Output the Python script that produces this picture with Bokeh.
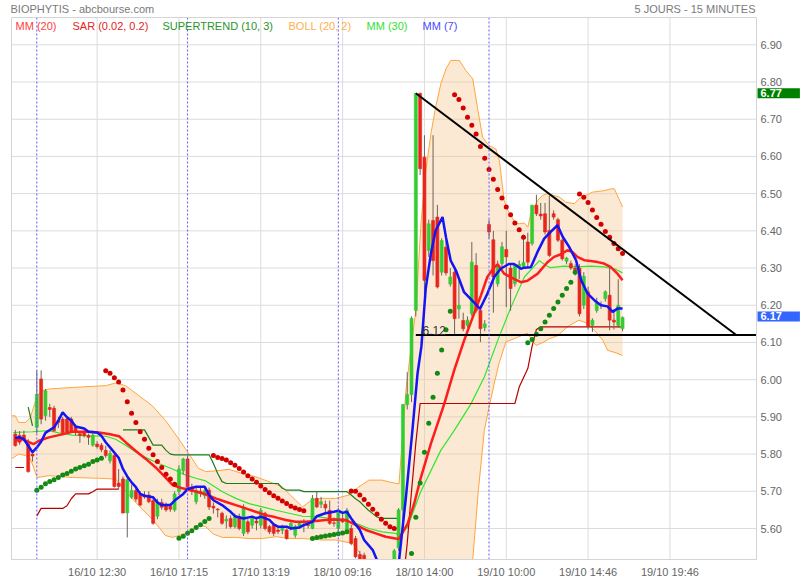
from bokeh.plotting import figure
from bokeh.models import Range1d, FixedTicker, PrintfTickFormatter, Label, LinearAxis, ColumnDataSource
from bokeh.embed import file_html
from bokeh.resources import INLINE

FONT = "Liberation Sans"

# ---------------- data (bar index, 15-minute bars; bar 0 = 16/10 09:00) ----------------
bars = list(range(-5, 137))
opens = [5.854, 5.850, 5.851, 5.827, 5.800, 5.872, 6.002, 5.903, 5.925, 5.923,
         5.890, 5.894, 5.894, 5.894, 5.872, 5.855, 5.858, 5.850, 5.824, 5.827,
         5.824, 5.810, 5.782, 5.796, 5.722, 5.733, 5.642, 5.684, 5.702, 5.693,
         5.690, 5.690, 5.675, 5.633, 5.670, 5.661, 5.660, 5.650, 5.699, 5.755,
         5.787, 5.711, 5.672, 5.700, 5.688, 5.703, 5.660, 5.652, 5.641, 5.620,
         5.627, 5.605, 5.632, 5.587, 5.618, 5.609, 5.620, 5.609, 5.641, 5.605,
         5.609, 5.596, 5.595, 5.596, 5.600, 5.582, 5.605, 5.610, 5.610, 5.600,
         5.681, 5.665, 5.665, 5.649, 5.615, 5.600, 5.626, 5.591, 5.600, 5.573,
         5.530, 5.528, 5.500, 5.470, 5.450, 5.460, 5.470, 5.480, 5.500, 5.548,
         5.650, 5.933, 5.960, 6.186, 6.769, 6.598, 6.347, 6.428, 6.437, 6.289,
         6.356, 6.257, 6.289, 6.190, 6.159, 6.146, 6.177, 6.307, 6.186, 6.140,
         6.417, 6.376, 6.258, 6.312, 6.350, 6.300, 6.258, 6.300, 6.305, 6.370,
         6.366, 6.469, 6.445, 6.446, 6.401, 6.446, 6.430, 6.375, 6.318, 6.312,
         6.300, 6.300, 6.200, 6.236, 6.146, 6.186, 6.200, 6.218, 6.227, 6.160,
         6.146, 6.137]
highs = [5.865, 5.862, 5.863, 5.840, 5.810, 6.024, 6.025, 5.975, 5.935, 5.930,
         5.900, 5.900, 5.900, 5.900, 5.880, 5.862, 5.865, 5.855, 5.855, 5.835,
         5.830, 5.822, 5.810, 5.800, 5.760, 5.740, 5.735, 5.718, 5.710, 5.700,
         5.700, 5.700, 5.685, 5.680, 5.680, 5.670, 5.667, 5.700, 5.770, 5.790,
         5.796, 5.720, 5.710, 5.710, 5.710, 5.710, 5.670, 5.655, 5.645, 5.635,
         5.635, 5.640, 5.640, 5.665, 5.625, 5.632, 5.632, 5.655, 5.645, 5.610,
         5.615, 5.605, 5.610, 5.600, 5.620, 5.610, 5.620, 5.625, 5.620, 5.690,
         5.700, 5.685, 5.675, 5.675, 5.630, 5.655, 5.640, 5.655, 5.610, 5.580,
         5.540, 5.535, 5.510, 5.490, 5.480, 5.490, 5.500, 5.510, 5.545, 5.655,
         5.935, 6.020, 6.170, 6.770, 6.772, 6.657, 6.430, 6.657, 6.470, 6.380,
         6.374, 6.300, 6.300, 6.267, 6.180, 6.170, 6.370, 6.340, 6.200, 6.160,
         6.430, 6.400, 6.320, 6.370, 6.400, 6.310, 6.310, 6.320, 6.390, 6.395,
         6.470, 6.497, 6.475, 6.475, 6.495, 6.455, 6.435, 6.380, 6.330, 6.320,
         6.310, 6.310, 6.289, 6.250, 6.165, 6.220, 6.210, 6.240, 6.300, 6.190,
         6.270, 6.170]
lows = [5.820, 5.825, 5.835, 5.750, 5.780, 5.855, 5.880, 5.890, 5.900, 5.860,
        5.870, 5.850, 5.855, 5.860, 5.850, 5.830, 5.845, 5.825, 5.820, 5.815,
        5.805, 5.790, 5.775, 5.710, 5.705, 5.640, 5.576, 5.680, 5.672, 5.660,
        5.680, 5.668, 5.610, 5.625, 5.650, 5.645, 5.645, 5.645, 5.690, 5.745,
        5.700, 5.690, 5.665, 5.685, 5.680, 5.650, 5.640, 5.630, 5.610, 5.600,
        5.600, 5.600, 5.595, 5.580, 5.585, 5.600, 5.595, 5.600, 5.595, 5.585,
        5.580, 5.585, 5.585, 5.570, 5.595, 5.575, 5.600, 5.590, 5.600, 5.598,
        5.655, 5.655, 5.640, 5.610, 5.605, 5.595, 5.615, 5.585, 5.555, 5.520,
        5.505, 5.500, 5.460, 5.440, 5.430, 5.440, 5.450, 5.460, 5.490, 5.540,
        5.620, 5.920, 5.940, 6.170, 6.550, 6.222, 6.330, 6.280, 6.245, 6.280,
        6.280, 6.250, 6.123, 6.164, 6.130, 6.140, 6.170, 6.180, 6.101, 6.130,
        6.380, 6.180, 6.250, 6.300, 6.195, 6.185, 6.250, 6.270, 6.300, 6.300,
        6.360, 6.440, 6.430, 6.390, 6.330, 6.430, 6.370, 6.320, 6.310, 6.295,
        6.280, 6.170, 6.190, 6.135, 6.128, 6.180, 6.190, 6.210, 6.133, 6.135,
        6.140, 6.130]
closes = [5.823, 5.832, 5.840, 5.753, 5.795, 5.961, 5.894, 5.970, 5.920, 5.863,
          5.885, 5.858, 5.858, 5.862, 5.858, 5.850, 5.850, 5.845, 5.851, 5.820,
          5.812, 5.796, 5.802, 5.713, 5.713, 5.642, 5.731, 5.702, 5.679, 5.663,
          5.685, 5.672, 5.614, 5.672, 5.657, 5.650, 5.652, 5.693, 5.760, 5.787,
          5.711, 5.700, 5.702, 5.695, 5.702, 5.658, 5.655, 5.650, 5.614, 5.625,
          5.605, 5.632, 5.600, 5.658, 5.591, 5.627, 5.615, 5.649, 5.600, 5.591,
          5.587, 5.592, 5.600, 5.573, 5.614, 5.605, 5.614, 5.612, 5.608, 5.681,
          5.658, 5.672, 5.655, 5.614, 5.614, 5.645, 5.618, 5.649, 5.560, 5.524,
          5.512, 5.510, 5.470, 5.450, 5.460, 5.470, 5.480, 5.490, 5.540, 5.650,
          5.933, 5.960, 6.165, 6.769, 6.567, 6.267, 6.419, 6.320, 6.249, 6.374,
          6.287, 6.276, 6.164, 6.200, 6.137, 6.160, 6.316, 6.186, 6.137, 6.150,
          6.397, 6.276, 6.307, 6.357, 6.330, 6.245, 6.307, 6.310, 6.315, 6.316,
          6.469, 6.446, 6.440, 6.397, 6.334, 6.437, 6.375, 6.325, 6.327, 6.300,
          6.287, 6.177, 6.278, 6.142, 6.160, 6.206, 6.202, 6.236, 6.160, 6.155,
          6.200, 6.167]

# moving averages: (bar, price)
mm7_points = [(-5, 5.843), (-4, 5.845), (-3, 5.840), (-1, 5.805), (0, 5.818), (1, 5.833), (2, 5.857),
              (4, 5.872), (5, 5.890), (6, 5.912), (7, 5.899), (8, 5.890), (9, 5.874), (11, 5.869),
              (12, 5.860), (14, 5.858), (15, 5.849), (16, 5.832), (17, 5.818), (19, 5.790), (20, 5.760),
              (21, 5.740), (22, 5.724), (23, 5.711), (24, 5.693), (25, 5.688), (27, 5.684), (28, 5.670),
              (29, 5.663), (31, 5.663), (32, 5.675), (34, 5.693), (35, 5.706), (37, 5.712), (39, 5.712),
              (40, 5.690), (41, 5.676), (43, 5.663), (45, 5.645), (46, 5.633), (48, 5.627), (50, 5.632),
              (51, 5.627), (52, 5.632), (54, 5.623), (55, 5.611), (56, 5.605), (58, 5.605), (59, 5.600),
              (61, 5.603), (62, 5.609), (64, 5.618), (65, 5.633), (67, 5.641), (69, 5.645), (70, 5.648),
              (71, 5.642), (72, 5.645), (73, 5.627), (75, 5.596), (76, 5.569), (78, 5.542), (79, 5.515),
              (81, 5.470), (83, 5.480), (84.1, 5.514), (85.7, 5.684), (87.2, 5.863), (88.4, 6.017),
              (89.3, 6.090), (90.3, 6.245), (91.5, 6.339), (92.6, 6.401), (94.2, 6.437), (95, 6.383),
              (96.1, 6.320), (97.3, 6.294), (99.2, 6.235), (101.5, 6.208), (102.9, 6.190),
              (104.6, 6.231), (106.2, 6.276), (107.7, 6.298), (109.6, 6.311), (110.8, 6.311),
              (112.4, 6.298), (113.1, 6.301), (114.7, 6.302), (116.4, 6.347), (117.8, 6.379),
              (119.3, 6.397), (120.9, 6.415), (122.1, 6.384), (123.6, 6.357),
              (125.2, 6.321), (126.4, 6.267), (127.9, 6.231), (129.5, 6.213), (131, 6.200),
              (132.5, 6.197), (133.7, 6.182), (134.8, 6.191), (136, 6.191)]
mm20_points = [(-5, 5.836), (-3.4, 5.840), (-1.8, 5.832), (-0.7, 5.827), (0.5, 5.836), (2.8, 5.845),
               (5.1, 5.851), (8.2, 5.860), (12.1, 5.860), (14.4, 5.858), (16.7, 5.854), (19.1, 5.848),
               (20.6, 5.832), (22.9, 5.809), (25.3, 5.787), (27.6, 5.764), (29.9, 5.737), (31.5, 5.717),
               (33.8, 5.708), (36.1, 5.702), (39.2, 5.692), (41.5, 5.681), (43.8, 5.672), (46.2, 5.663),
               (48.5, 5.654), (50.8, 5.645), (53.1, 5.636), (55.5, 5.630), (57.8, 5.623), (60.1, 5.618),
               (62.4, 5.618), (64.8, 5.620), (67.1, 5.623), (69.4, 5.624), (71.7, 5.623), (74.1, 5.609),
               (76.4, 5.596), (78.7, 5.587), (81, 5.578), (83.3, 5.573), (84.1, 5.572), (86.1, 5.613),
               (87.6, 5.666), (89.1, 5.734), (91.5, 5.828), (94.6, 5.935), (96.9, 6.025), (99.2, 6.105),
               (101.5, 6.177), (103.1, 6.226), (104.6, 6.276), (106.2, 6.302), (107, 6.310),
               (108.5, 6.285), (110.8, 6.271), (112.4, 6.262), (113.9, 6.266), (116.3, 6.285),
               (118.5, 6.315), (120.1, 6.330), (121.7, 6.337), (123.2, 6.348),
               (124.4, 6.343), (125.5, 6.330), (127.1, 6.321), (128.6, 6.319), (130.2, 6.316),
               (131.7, 6.312), (133.2, 6.303), (134.8, 6.285), (136, 6.267)]
mm30_points = [(-5.5, 5.858), (-1, 5.860), (2.8, 5.863), (5.1, 5.857), (8.2, 5.851), (12.1, 5.849),
               (16, 5.848), (18.3, 5.840), (20.6, 5.824), (23.7, 5.800), (27.6, 5.778), (31.5, 5.760),
               (34.5, 5.744), (36.9, 5.735), (39.2, 5.728), (43.1, 5.699), (46.2, 5.681), (49.3, 5.667),
               (52.4, 5.658), (55.5, 5.649), (58.6, 5.641), (61.7, 5.633), (64.8, 5.632), (67.9, 5.627),
               (71, 5.623), (74.1, 5.614), (77.1, 5.600), (80.2, 5.591), (83.3, 5.587), (84.1, 5.581),
               (86.1, 5.604), (89.1, 5.698), (93.8, 5.810), (96.9, 5.863), (100.8, 5.935),
               (103.9, 6.007), (107, 6.105), (110.1, 6.195), (113.2, 6.276), (116.7, 6.320),
               (118.2, 6.307), (119.3, 6.301), (122.4, 6.305),
               (125.5, 6.303), (128.6, 6.305), (131.7, 6.303), (134.1, 6.298), (136, 6.287)]

# Bollinger (20, 2) bands: (bar, price)
boll_upper = [(-5.9, 5.903), (-5, 5.903), (-4.2, 5.885), (-2.6, 5.885), (-1.5, 5.899), (0.1, 5.957),
              (1.2, 5.970), (2.8, 5.975), (8.2, 5.979), (16, 5.984), (18.3, 5.991), (20.6, 5.984),
              (23.7, 5.957), (26.8, 5.930), (29.9, 5.890), (33, 5.840), (36.1, 5.787), (37.5, 5.762),
              (39.2, 5.753), (41.5, 5.755), (44.6, 5.759), (47.7, 5.748), (50.8, 5.739), (53.9, 5.726),
              (57, 5.712), (59.3, 5.685), (61.7, 5.658), (64, 5.678), (66.3, 5.681), (69.4, 5.681),
              (72.5, 5.690), (74.8, 5.712), (77.1, 5.730), (80.2, 5.730), (82.2, 5.724), (84.1, 5.720),
              (85.7, 5.971), (86.8, 6.078), (88, 6.186), (89.2, 6.420), (90.3, 6.560), (91.5, 6.661),
              (92.6, 6.732), (93.8, 6.795), (95, 6.835), (96.1, 6.858), (98.1, 6.858), (99.6, 6.831),
              (101.2, 6.809), (102.3, 6.732), (103.5, 6.652), (105, 6.629), (106.6, 6.620),
              (107.4, 6.589), (108.5, 6.482), (109.7, 6.446), (111.2, 6.421), (112, 6.419),
              (113.2, 6.421), (114, 6.410), (114.7, 6.446), (116.3, 6.482), (117.4, 6.495),
              (118.6, 6.500), (120.1, 6.495), (121.3, 6.491), (122.8, 6.477), (124.8, 6.473),
              (125.9, 6.486), (127.5, 6.495), (129, 6.504), (131.7, 6.508), (133.3, 6.513),
              (134.1, 6.513), (136, 6.464)]
boll_lower = [(-5.9, 5.787), (-4.2, 5.800), (-2.6, 5.796), (-1.5, 5.787), (0.1, 5.737), (2.8, 5.742),
              (8.2, 5.737), (14.4, 5.735), (18.3, 5.733), (20.6, 5.700), (23.7, 5.661), (26.8, 5.625),
              (29.9, 5.581), (31.5, 5.576), (33, 5.581), (35.3, 5.590), (37.6, 5.610), (39.2, 5.605),
              (41, 5.585), (43.1, 5.576), (46.2, 5.576), (49.3, 5.573), (52.4, 5.573), (55.5, 5.578),
              (58.6, 5.573), (61.7, 5.573), (66.3, 5.569), (69.4, 5.569), (73.3, 5.560), (75.6, 5.524),
              (77.1, 5.497), (80, 5.440), (84, 5.430), (86, 5.300), (90, 5.100), (95, 5.050),
              (100, 5.400), (101.2, 5.514), (102.5, 5.700), (103.9, 5.863), (105, 5.926),
              (106.2, 5.989), (107.3, 6.043), (108.9, 6.101), (111.6, 6.114), (113.9, 6.125),
              (115.9, 6.092), (117.5, 6.100), (119, 6.110), (120.9, 6.118), (123.2, 6.142),
              (125.9, 6.160), (127.9, 6.151), (129.8, 6.128), (131.4, 6.106), (132.5, 6.079),
              (134.5, 6.072), (136, 6.065)]

# Supertrend (10, 3) segments
st_red_1_x = [-5, -4, -3]
st_red_1_y = [5.764, 5.764, 5.764]
st_green_1_x = [-2, -1]
st_green_1_y = [5.926, 5.876]
st_red_2_x = list(range(0, 20))
st_red_2_y = [5.634, 5.654, 5.654, 5.654, 5.654, 5.654, 5.654, 5.661, 5.680, 5.693,
              5.693, 5.693, 5.693, 5.699, 5.706, 5.706, 5.706, 5.706, 5.706, 5.706]
st_green_2_x = list(range(20, 85))
st_green_2_y = [5.865] * 6 + [5.845, 5.824, 5.824, 5.824, 5.810, 5.800] + [5.798] * 9 + \
               [5.775, 5.748, 5.726] + [5.721] * 13 + [5.708] + [5.703] * 4 + [5.699] * 11 + \
               [5.690, 5.680, 5.672, 5.660, 5.649, 5.640, 5.631] + [5.627] * 5
st_red_3_x = list(range(85, 137))
st_red_3_y = [5.450, 5.560, 5.700, 5.830] + [5.936] * 23 + [5.980, 6.005, 6.030, 6.090, 6.135] + \
             [6.142] * 20

# Parabolic SAR (0.02, 0.2)
sar_green_x = list(range(0, 16)) + list(range(33, 41)) + list(range(64, 73)) + \
              list(range(87, 97)) + list(range(114, 126))
sar_green_y = [5.703, 5.711, 5.720, 5.726, 5.731, 5.737, 5.744, 5.748, 5.754, 5.760, 5.764, 5.769,
               5.773, 5.780, 5.784, 5.789,
               5.574, 5.579, 5.587, 5.594, 5.603, 5.610, 5.619, 5.627,
               5.573, 5.576, 5.578, 5.580, 5.582, 5.584, 5.586, 5.588, 5.591,
               5.533, 5.630, 5.722, 5.805, 5.883, 5.953, 6.017, 6.080, 6.134, 6.184,
               6.099, 6.108, 6.122, 6.137, 6.155, 6.173, 6.191, 6.209, 6.227, 6.245, 6.262, 6.289]
sar_red_x = list(range(16, 33)) + list(range(41, 63)) + list(range(73, 84)) + \
            list(range(97, 114)) + list(range(126, 137))
sar_red_y = [6.024, 6.017, 6.005, 5.994, 5.972, 5.941, 5.910, 5.885, 5.860, 5.840, 5.816, 5.798,
             5.780, 5.764, 5.746, 5.733, 5.719,
             5.796, 5.791, 5.788, 5.784, 5.777, 5.770, 5.761, 5.752, 5.742, 5.733, 5.724, 5.714,
             5.705, 5.696, 5.688, 5.681, 5.674, 5.667, 5.660, 5.655, 5.651, 5.648,
             5.701, 5.700, 5.690, 5.678, 5.665, 5.652, 5.639, 5.625, 5.614, 5.605, 5.600,
             6.766, 6.753, 6.730, 6.705, 6.684, 6.660, 6.627, 6.595, 6.565, 6.539, 6.511, 6.488,
             6.464, 6.443, 6.421, 6.403, 6.383,
             6.499, 6.490, 6.476, 6.456, 6.436, 6.418, 6.398, 6.383, 6.366, 6.352, 6.339]

# trend lines drawn on the chart
tri_x = [88, 162.4]
tri_y = [6.770, 6.120]
support_start = 88
support_level = 6.12
last_high = 6.77
last_price = 6.17

day_starts = [0, 35, 70, 105]
x_tick_pos = [14, 33, 52, 71, 90, 109, 128, 147]
x_tick_labels = ["16/10 12:30", "16/10 17:15", "17/10 13:19", "18/10 09:16",
                 "18/10 14:00", "19/10 10:00", "19/10 14:46", "19/10 19:46"]
y_ticks = [5.60, 5.70, 5.80, 5.90, 6.00, 6.10, 6.20, 6.30, 6.40, 6.50, 6.60, 6.70, 6.80, 6.90]

legend_items = ["MM (20)", "SAR (0.02, 0.2)", "SUPERTREND (10, 3)", "BOLL (20, 2)", "MM (30)", "MM (7)"]
legend_colors = ["#ff3c3c", "#e32424", "#2a952a", "#ffad4f", "#33e033", "#4a4aff"]

# ---------------- layout: plot area inside an 800x580 canvas ----------------
W, H = 800, 580
PA_L, PA_R, PA_T, PA_B = 11, 756, 17, 559          # plot-area box in pixels
X_LEFT, X_RIGHT = -5.88, 167.1                      # plot-area x extent (bars)
Y_BOTTOM, Y_TOP = 5.5167, 6.9734                    # plot-area y extent (price)
SX = (PA_R - PA_L) / (X_RIGHT - X_LEFT)
SY = (PA_B - PA_T) / (Y_TOP - Y_BOTTOM)
XS, XE = X_LEFT - PA_L / SX, X_RIGHT + (W - PA_R) / SX
YS, YE = Y_BOTTOM - (H - PA_B) / SY, Y_TOP + PA_T / SY


def px(xp):
    return X_LEFT + (xp - PA_L) / SX


def py(yp):
    return Y_TOP - (yp - PA_T) / SY


p = figure(width=W, height=H, output_backend="svg", toolbar_location=None, title=None,
           x_range=Range1d(XS, XE), y_range=Range1d(YS, YE),
           x_axis_location=None, y_axis_location=None,
           min_border_left=0, min_border_right=0, min_border_top=0, min_border_bottom=0)
p.background_fill_color = "white"
p.border_fill_color = "white"
p.outline_line_color = None
p.grid.visible = False

# axes pinned to the plot-area edges
xax = LinearAxis(fixed_location=Y_BOTTOM, ticker=FixedTicker(ticks=x_tick_pos))
xax.major_label_overrides = {t: l for t, l in zip(x_tick_pos, x_tick_labels)}
yax = LinearAxis(fixed_location=X_RIGHT, ticker=FixedTicker(ticks=y_ticks),
                 formatter=PrintfTickFormatter(format="%.2f"))
for ax in (xax, yax):
    ax.axis_line_color = None
    ax.major_tick_line_color = None
    ax.minor_tick_line_color = None
    ax.major_tick_out = 0
    ax.major_tick_in = 0
    ax.major_label_text_font = FONT
    ax.major_label_text_font_size = "11px"
    ax.major_label_text_color = "#666666"
xax.major_label_standoff = 6
yax.major_label_standoff = 4
p.add_layout(xax, "below")
p.add_layout(yax, "right")

# grid lines
p.segment(x0=X_LEFT, x1=X_RIGHT, y0=y_ticks, y1=y_ticks, line_color="#dcdcdc", line_width=1)
p.segment(x0=x_tick_pos, x1=x_tick_pos, y0=Y_BOTTOM, y1=Y_TOP, line_color="#dcdcdc", line_width=1)

# Bollinger band
bu_x = [a for a, b in boll_upper]
bu_y = [b for a, b in boll_upper]
bl_x = [a for a, b in boll_lower]
bl_y = [b for a, b in boll_lower]
p.patch(bu_x + bl_x[::-1], bu_y + bl_y[::-1], fill_color="#f6c68c", fill_alpha=0.38, line_color=None)
p.line(bu_x, bu_y, line_color="#ffa53d", line_width=1)
p.line(bl_x, bl_y, line_color="#ffa53d", line_width=1)

# MM 30
p.line([a for a, b in mm30_points], [b for a, b in mm30_points], line_color="#2fe62f", line_width=1.2)

# Supertrend
for xs, ys, col in [(st_red_1_x, st_red_1_y, "#b80000"), (st_green_1_x, st_green_1_y, "#1e7d1e"),
                    (st_red_2_x, st_red_2_y, "#b80000"), (st_green_2_x, st_green_2_y, "#1e7d1e"),
                    (st_red_3_x, st_red_3_y, "#b80000")]:
    p.line(xs, ys, line_color=col, line_width=1.2)

# candles
GREEN, RED = "#33cc33", "#e8261c"
src = ColumnDataSource(dict(
    x=bars, h=highs, l=lows,
    top=[max(o, c) for o, c in zip(opens, closes)],
    bottom=[min(o, c) for o, c in zip(opens, closes)],
    color=[GREEN if c >= o else RED for o, c in zip(opens, closes)]))
p.segment("x", "h", "x", "l", source=src, line_color="#6e625a", line_width=1)
p.vbar(x="x", width=0.7, top="top", bottom="bottom", fill_color="color", line_color="color",
       line_width=0.6, source=src)

# MM 20 and MM 7
p.line([a for a, b in mm20_points], [b for a, b in mm20_points], line_color="#ff1c1c", line_width=2.5)
p.line([a for a, b in mm7_points], [b for a, b in mm7_points], line_color="#1414f5", line_width=2.5)

# SAR dots
p.scatter(sar_green_x, sar_green_y, size=5, fill_color="#138a13", line_color=None)
p.scatter(sar_red_x, sar_red_y, size=5, fill_color="#d40000", line_color=None)

# trend lines
p.line(tri_x, tri_y, line_color="black", line_width=2)
p.line([support_start, X_RIGHT], [support_level, support_level], line_color="black", line_width=2)

# day separators
p.segment(x0=day_starts, x1=day_starts, y0=Y_BOTTOM, y1=Y_TOP, line_color="#5a5aff",
          line_dash="2 2", line_width=1)

# white margins around the plot area (hide anything drawn outside it)
p.quad(left=[XS, XS, X_RIGHT], right=[XE, X_LEFT, XE], bottom=[YS, YS, YS], top=[Y_BOTTOM, YE, YE],
       fill_color="white", line_color=None)
# plot-area border
p.line([X_LEFT, X_RIGHT, X_RIGHT, X_LEFT, X_LEFT], [Y_BOTTOM, Y_BOTTOM, Y_TOP, Y_TOP, Y_BOTTOM],
       line_color="#d4d4d4", line_width=1)

# texts
p.add_layout(Label(x=px(422), y=support_level, text="%.2f" % support_level, text_baseline="bottom",
                   text_font=FONT, text_font_size="12px", text_color="#333333"))

legend_px = [15, 72, 162, 288, 366, 422]
for t, c, lx in zip(legend_items, legend_colors, legend_px):
    p.add_layout(Label(x=px(lx), y=py(25), text=t, text_color=c, text_font=FONT,
                       text_font_size="11px", text_baseline="middle"))

p.add_layout(Label(x=px(10), y=py(8), text="BIOPHYTIS - abcbourse.com", text_color="#7a7a7a",
                   text_font=FONT, text_font_size="11px", text_baseline="middle"))
p.add_layout(Label(x=px(755), y=py(8), text="5 JOURS - 15 MINUTES", text_color="#7a7a7a",
                   text_font=FONT, text_font_size="11px", text_baseline="middle", text_align="right"))


def price_box(v, col):
    lab = Label(x=px(757), y=v, text="%.2f" % v, text_color="white", text_font=FONT,
                text_font_size="11px", text_font_style="bold", text_baseline="middle",
                background_fill_color=col)
    try:
        lab.padding = dict(left=3, right=18, top=1, bottom=1)
    except Exception:
        try:
            lab.padding = 2
        except Exception:
            pass
    p.add_layout(lab)


price_box(last_high, "#008000")
price_box(last_price, "#3366ff")

open("out.html", "w").write(file_html(p, INLINE))
